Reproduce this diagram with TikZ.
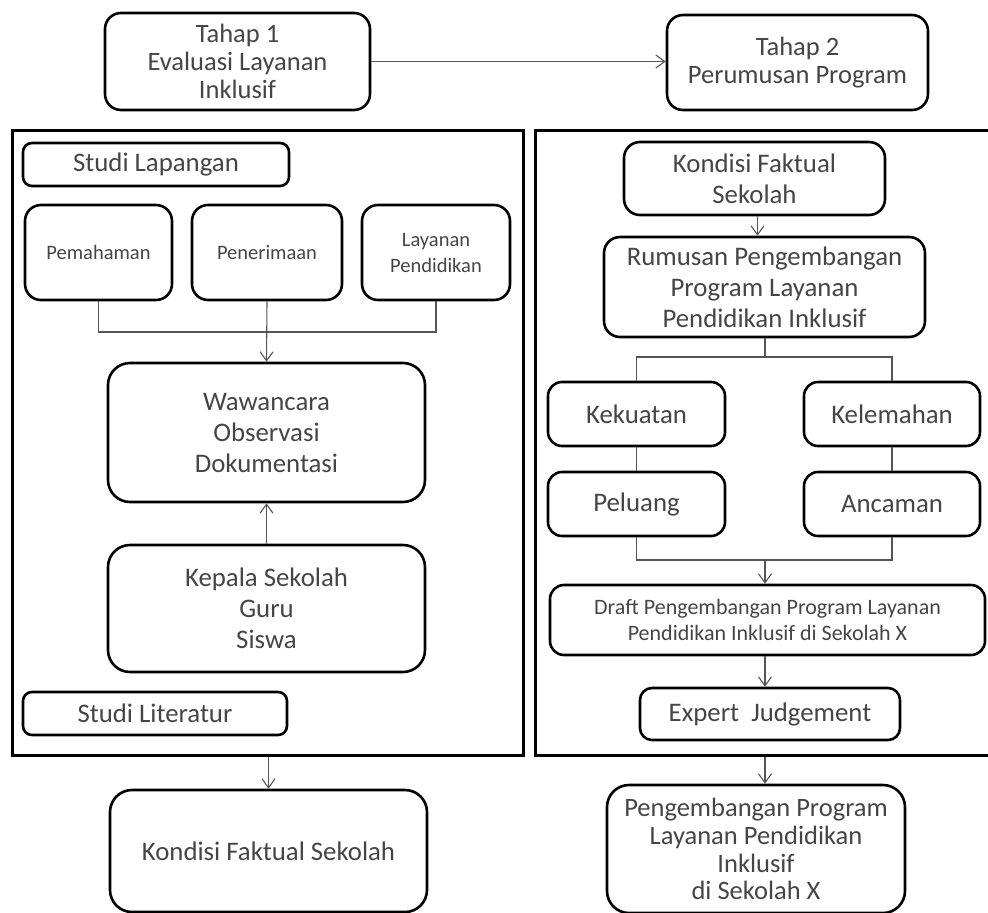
\documentclass[tikz,border=0pt]{standalone}
\usepackage{fontspec}
\setmainfont{Carlito}
\usetikzlibrary{arrows.meta}
\definecolor{txt}{HTML}{454545}
\definecolor{ln}{HTML}{555555}
\begin{document}
\begin{tikzpicture}[x=1pt,y=-1pt,
  box/.style={draw=black, line width=2.6pt, rounded corners=#1, inner sep=0pt, align=center, text=txt, font=\fontsize{26.8}{31}\selectfont},
  box/.default=16pt,
  frame/.style={draw=black, line width=3pt, inner sep=0pt},
  conn/.style={draw=ln, line width=1.1pt},
  arr/.style={conn, -{Straight Barb[length=9pt,width=13pt,line width=1.1pt]}},
  tight/.style={font=\fontsize{26.5}{27.8}\selectfont},
  small/.style={font=\fontsize{20.5}{26}\selectfont},
  mid/.style={font=\fontsize{22}{26.5}\selectfont}
]
\useasboundingbox (0,0) rectangle (988,913);
% top row
\node[box, tight, minimum width=265pt, minimum height=97pt] (t1) at (237.5,61.5) {Tahap 1\\Evaluasi Layanan\\Inklusif};
\node[box, tight, minimum width=261pt, minimum height=95pt] (t2) at (797.5,62.5) {Tahap 2\\Perumusan Program};
\draw[arr] (t1.east) -- (t2.west |- t1.east);
% frames
\node[frame, minimum width=511pt, minimum height=625pt] (fl) at (267.5,442.5) {};
\node[frame, minimum width=470pt, minimum height=625pt] (fr) at (770,442.5) {};
% left frame
\node[box=9pt, minimum width=266pt, minimum height=43pt] (sl) at (156,164.5) {Studi Lapangan};
\node[box, small, minimum width=147pt, minimum height=95pt] (pem) at (98.5,252.5) {Pemahaman};
\node[box, small, minimum width=150pt, minimum height=95pt] (pen) at (267,252.5) {Penerimaan};
\node[box, small, minimum width=148pt, minimum height=95pt] (lay) at (436,252.5) {Layanan\\Pendidikan};
\node[box=22pt, minimum width=317pt, minimum height=139pt] (waw) at (266.5,432.5) {Wawancara\\Observasi\\Dokumentasi};
\node[box=22pt, minimum width=317pt, minimum height=127pt] (kep) at (266.5,608.5) {Kepala Sekolah\\Guru\\Siswa};
\node[box=9pt, minimum width=264pt, minimum height=43pt] (slit) at (155,713.5) {Studi Literatur};
\coordinate (jl) at (267,332);
\draw[conn] (pem.south) |- (jl) -| (lay.south);
\draw[arr] (pen.south) -- (waw.north);
\draw[arr] (kep.north) -- (waw.south);
% bottom left
\node[box=22pt, minimum width=317pt, minimum height=122pt] (kfs) at (268.5,851) {Kondisi Faktual Sekolah};
\draw[arr] (fl.south -| kfs.north) -- (kfs.north);
% right frame
\node[box, minimum width=261pt, minimum height=73pt] (kf) at (754.5,178.5) {Kondisi Faktual\\Sekolah};
\node[box, minimum width=321pt, minimum height=100pt] (rum) at (764.5,287) {Rumusan Pengembangan\\Program Layanan\\Pendidikan Inklusif};
\draw[arr] ([xshift=3pt]kf.south) -- ([xshift=3pt]kf.south |- rum.north);
\node[box=14pt, minimum width=177pt, minimum height=64pt] (kek) at (636.5,414) {Kekuatan};
\node[box=14pt, minimum width=176pt, minimum height=64pt] (kel) at (892,414) {Kelemahan};
\node[box=14pt, minimum width=177pt, minimum height=64pt] (pel) at (636.5,504) {Peluang};
\node[box=14pt, minimum width=176pt, minimum height=64pt] (anc) at (892,504) {Ancaman};
\coordinate (jr) at (765,357);
\draw[conn] (jr |- rum.south) -- (jr);
\draw[conn] (kek.north) |- (jr) -| (kel.north);
\draw[conn] (kek.south) -- (pel.north);
\draw[conn] (kel.south) -- (anc.north);
\coordinate (jb) at (765,560);
\draw[conn] (pel.south) |- (jb) -| (anc.south);
\node[box=14pt, mid, minimum width=435pt, minimum height=70pt] (dr) at (767.5,620) {Draft Pengembangan Program Layanan\\Pendidikan Inklusif di Sekolah X};
\draw[arr] (jb) -- (jb |- dr.north);
\node[box=12pt, minimum width=260pt, minimum height=52pt] (ex) at (770,714) {Expert\ \ Judgement};
\draw[arr] (jb |- dr.south) -- (jb |- ex.north);
\node[box=22pt, tight, minimum width=298pt, minimum height=128pt] (pg) at (756,849) {Pengembangan Program\\Layanan Pendidikan\\Inklusif\\di Sekolah X};
\draw[arr] (jb |- fr.south) -- (jb |- pg.north);
\end{tikzpicture}
\end{document}
